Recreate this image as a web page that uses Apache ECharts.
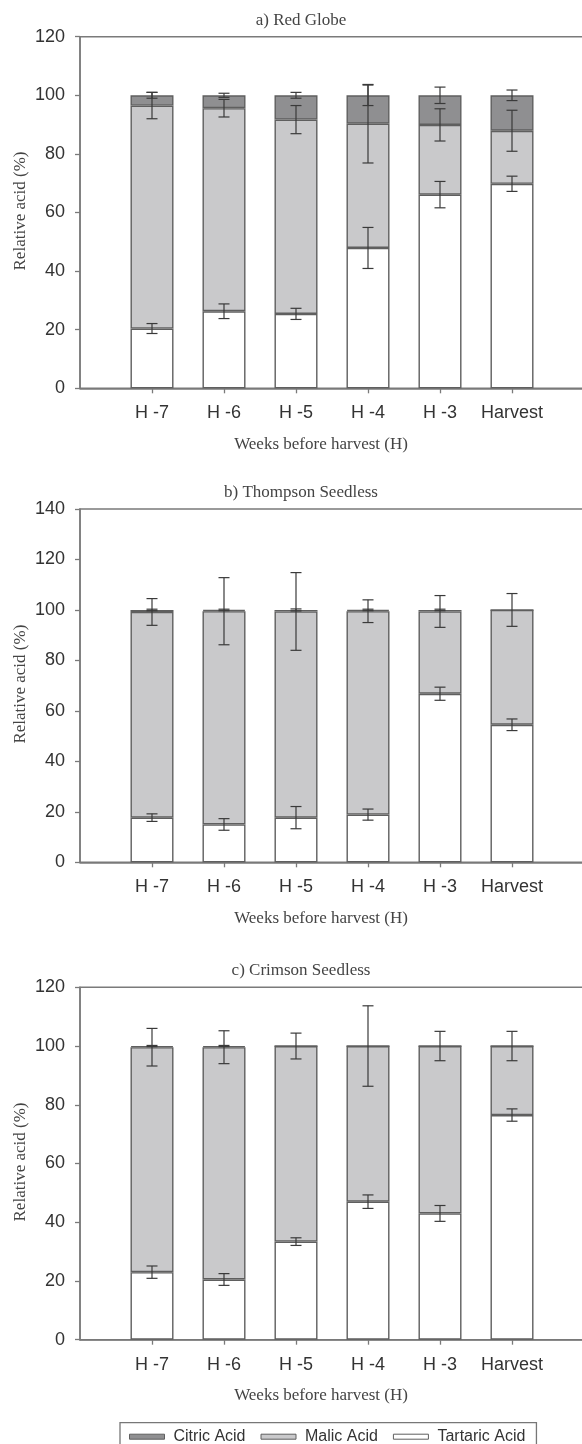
<!DOCTYPE html>
<html>
<head>
<meta charset="utf-8">
<script src="https://cdn.jsdelivr.net/npm/echarts@6/dist/echarts.min.js"></script>
<style>html,body{margin:0;padding:0;background:#fff;}#c{width:582px;height:1444px;}</style>
</head>
<body>
<div id="c"></div>
<script>
// ---- Data ----
const categories = ['', 'H -7', 'H -6', 'H -5', 'H -4', 'H -3', 'Harvest', ''];
const weeks = ['H -7', 'H -6', 'H -5', 'H -4', 'H -3', 'Harvest'];
const panelTitles = ['a) Red Globe', 'b) Thompson Seedless', 'c) Crimson Seedless'];
const yMax = [120, 140, 120];
const yTicks = [0, 20, 40, 60, 80, 100, 120, 140];

// Red Globe (segment percentages)
const redTartaric = [20.4, 26.3, 25.4, 47.9, 66.1, 69.8];
const redMalic    = [76.1, 69.3, 66.3, 42.4, 23.8, 18.1];
const redCitric   = [3.5, 4.4, 8.3, 9.7, 10.1, 12.1];
const redTartaricErr = [1.7, 2.5, 1.9, 7.0, 4.5, 2.6];
const redMalicErr    = [4.5, 3.0, 4.8, 13.4, 5.5, 7.0];
const redCitricErr   = [1.0, 0.7, 1.0, 3.5, 2.8, 1.8];

// Thompson Seedless
const thoTartaric = [17.7, 15.0, 17.7, 18.9, 66.8, 54.5];
const thoMalic    = [81.5, 84.5, 81.7, 80.6, 32.6, 45.5];
const thoCitric   = [0.8, 0.5, 0.6, 0.5, 0.6, 0];
const thoTartaricErr = [1.5, 2.3, 4.4, 2.2, 2.6, 2.3];
const thoMalicErr    = [5.3, 13.3, 15.4, 4.5, 6.3, 6.5];
const thoCitricErr   = [0.3, 0.3, 0.4, 0.3, 0.3, 0];

// Crimson Seedless
const criTartaric = [23.0, 20.5, 33.4, 47.0, 43.0, 76.5];
const criMalic    = [76.6, 79.1, 66.6, 53.0, 57.0, 23.5];
const criCitric   = [0.4, 0.4, 0, 0, 0, 0];
const criTartaricErr = [2.1, 2.0, 1.3, 2.3, 2.7, 2.1];
const criMalicErr    = [6.4, 5.6, 4.4, 13.7, 5.0, 5.0];
const criCitricErr   = [0.2, 0.2, 0, 0, 0, 0];

const panels = [
  {t: redTartaric, m: redMalic, c: redCitric, te: redTartaricErr, me: redMalicErr, ce: redCitricErr},
  {t: thoTartaric, m: thoMalic, c: thoCitric, te: thoTartaricErr, me: thoMalicErr, ce: thoCitricErr},
  {t: criTartaric, m: criMalic, c: criCitric, te: criTartaricErr, me: criMalicErr, ce: criCitricErr}
];

// ---- Layout ----
const gridTops = [36.7, 509, 987.3];
const gridHeights = [351.6, 353.3, 352.4];
const GL = 80, GW = 504;
const serif = 'Liberation Serif';
const sans = 'Liberation Sans';
const colCitric = '#8f8f91', colMalic = '#c9c9cb', colTart = '#ffffff';
const edge = '#5f5f5f', axisCol = '#7a7a7a', errCol = '#3a3a3a';

const grids = [], xAxes = [], yAxes = [], series = [], graphics = [];

function errSeries(gi, name, centers, errs) {
  const data = [];
  centers.forEach((v, i) => { if (errs[i] > 0) data.push([i + 1, v, errs[i]]); });
  return {
    type: 'custom', name: name + ' err', xAxisIndex: gi, yAxisIndex: gi, silent: true, z: 5,
    data: data,
    renderItem: function (params, api) {
      const x = api.value(0), y = api.value(1), e = api.value(2);
      const top = api.coord([x, y + e]);
      const bot = api.coord([x, y - e]);
      const hw = 5.5;
      const st = {stroke: errCol, lineWidth: 1.2};
      return {type: 'group', children: [
        {type: 'line', shape: {x1: top[0], y1: top[1], x2: bot[0], y2: bot[1]}, style: st},
        {type: 'line', shape: {x1: top[0] - hw, y1: top[1], x2: top[0] + hw, y2: top[1]}, style: st},
        {type: 'line', shape: {x1: bot[0] - hw, y1: bot[1], x2: bot[0] + hw, y2: bot[1]}, style: st}
      ]};
    }
  };
}

panels.forEach((p, gi) => {
  grids.push({left: GL, width: GW, top: gridTops[gi], height: gridHeights[gi], show: true,
    borderColor: axisCol, borderWidth: 1.5, backgroundColor: 'transparent', containLabel: false,
    outerBoundsMode: 'none'});
  xAxes.push({
    type: 'category', gridIndex: gi, data: categories, boundaryGap: false,
    axisLine: {show: true, lineStyle: {color: axisCol, width: 1.5}},
    axisTick: {show: true, length: 5, lineStyle: {color: axisCol, width: 1.3},
      interval: function (idx, val) { return val !== ''; }},
    axisLabel: {show: true, interval: 0, margin: 16, color: '#333', fontFamily: sans, fontSize: 18},
    splitLine: {show: false}
  });
  yAxes.push({
    type: 'value', gridIndex: gi, min: 0, max: yMax[gi], interval: 20,
    axisLine: {show: true, lineStyle: {color: axisCol, width: 1.5}},
    axisTick: {show: true, length: 5, lineStyle: {color: axisCol, width: 1.3}},
    axisLabel: {margin: 15, color: '#333', fontFamily: sans, fontSize: 18},
    splitLine: {show: false}
  });
  const pad = v => [null].concat(v);
  const common = {type: 'bar', xAxisIndex: gi, yAxisIndex: gi, stack: 's' + gi, barWidth: 43};
  series.push(Object.assign({}, common, {name: 'Tartaric Acid', data: pad(p.t),
    itemStyle: {color: colTart, borderColor: edge, borderWidth: 1.4}}));
  series.push(Object.assign({}, common, {name: 'Malic Acid', data: pad(p.m),
    itemStyle: {color: colMalic, borderColor: edge, borderWidth: 1.4}}));
  series.push(Object.assign({}, common, {name: 'Citric Acid', data: pad(p.c),
    itemStyle: {color: colCitric, borderColor: edge, borderWidth: 1.4}}));
  const tTop = p.t.slice();
  const mTop = p.t.map((v, i) => v + p.m[i]);
  const cTop = p.t.map((v, i) => v + p.m[i] + p.c[i]);
  series.push(errSeries(gi, 'Tartaric Acid', tTop, p.te));
  series.push(errSeries(gi, 'Malic Acid', mTop, p.me));
  series.push(errSeries(gi, 'Citric Acid', cTop, p.ce));

  const top = gridTops[gi], h = gridHeights[gi];
  graphics.push({type: 'text', x: 301, y: top - 16.5, style: {text: panelTitles[gi],
    font: '17px "' + serif + '"', fill: '#444', align: 'center', verticalAlign: 'middle',
    textAlign: 'center', textVerticalAlign: 'middle'}});
  graphics.push({type: 'text', x: 321, y: top + h + 56, style: {text: 'Weeks before harvest (H)',
    font: '17px "' + serif + '"', fill: '#444', align: 'center', verticalAlign: 'middle',
    textAlign: 'center', textVerticalAlign: 'middle'}});
  graphics.push({type: 'text', x: 20.4, y: top + h / 2 - 1.5, rotation: Math.PI / 2, style: {text: 'Relative acid (%)',
    font: '17px "' + serif + '"', fill: '#444', align: 'center', verticalAlign: 'middle',
    textAlign: 'center', textVerticalAlign: 'middle'}});
});

const chart = echarts.init(document.getElementById('c'), null, {renderer: 'canvas'});
chart.setOption({
  animation: false,
  backgroundColor: '#fff',
  grid: grids, xAxis: xAxes, yAxis: yAxes, series: series,
  graphic: graphics,
  legend: {
    data: ['Citric Acid', 'Malic Acid', 'Tartaric Acid'],
    left: 120, top: 1422.7, orient: 'horizontal',
    icon: 'rect', itemWidth: 35, itemHeight: 5, itemGap: 15,
    padding: [6, 11, 20, 9],
    borderColor: '#777', borderWidth: 1.3,
    textStyle: {fontFamily: sans, fontSize: 16, color: '#333', padding: [0, 0, 0, 4]},
    itemStyle: {borderColor: edge, borderWidth: 1}
  }
});
</script>
</body>
</html>
